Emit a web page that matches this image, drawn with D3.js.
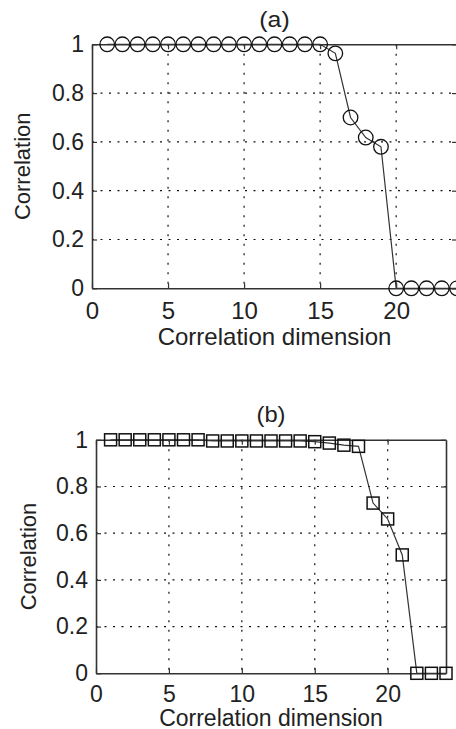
<!DOCTYPE html>
<html>
<head>
<meta charset="utf-8">
<script src="https://cdn.jsdelivr.net/npm/d3@7"></script>
<style>
  html, body { margin: 0; padding: 0; background: #fff; }
  svg { display: block; }
  text { font-family: "Liberation Sans", Arial, sans-serif; fill: #222; }
</style>
</head>
<body>
<div id="chart"></div>
<script>
// Data
const dims = [1, 2, 3, 4, 5, 6, 7, 8, 9, 10, 11, 12, 13, 14, 15, 16, 17, 18, 19, 20, 21, 22, 23, 24];
const corrA = [1, 1, 1, 1, 1, 1, 1, 1, 1, 1, 1, 1, 1, 1, 1, 0.963, 0.70, 0.618, 0.58, 0, 0, 0, 0, 0];
const corrB = [1, 1, 1, 1, 1, 1, 1, 0.995, 0.995, 0.995, 0.995, 0.995, 0.995, 0.995, 0.992, 0.986, 0.977, 0.972, 0.729, 0.661, 0.507, 0, 0, 0];
const xTicks = [0, 5, 10, 15, 20];
const yTicks = [0, 0.2, 0.4, 0.6, 0.8, 1];
const titles = ["(a)", "(b)"];
const xLabel = "Correlation dimension";
const yLabel = "Correlation";

const svg = d3.select("#chart")
   .append("svg")
   .attr("width", 456)
   .attr("height", 729);

// layout of each panel (pixels); panel (a) is a little wider in the scan
const panels = [
   { values: corrA, marker: "circle", left: 92, right: 457, top: 44.3, bottom: 288.3,
     titleY: 27, xLabelY: 344.5, yLabelX: 22.5, xPad: 14, sx: 1.045 },
   { values: corrB, marker: "square", left: 96, right: 446, top: 439.8, bottom: 673.3,
     titleY: 421.5, xLabelY: 725.5, yLabelX: 28.7, xPad: 12, sx: 1.0 }
];

panels.forEach((p, k) => {
   const x = d3.scaleLinear().domain([0, 24]).range([p.left, p.right]);
   const y = d3.scaleLinear().domain([0, 1]).range([p.bottom, p.top]);
   const g = svg.append("g");

   // dotted grid
   g.selectAll(".vgrid")
      .data(xTicks.filter(d => d > 0))
      .enter()
      .append("line")
      .attr("x1", d => x(d)).attr("x2", d => x(d))
      .attr("y1", p.top).attr("y2", p.bottom)
      .attr("stroke", "#111")
      .attr("stroke-width", 1.2)
      .attr("stroke-dasharray", "2,7.5");

   g.selectAll(".hgrid")
      .data(yTicks.filter(d => d > 0 && d < 1))
      .enter()
      .append("line")
      .attr("x1", p.left).attr("x2", p.right)
      .attr("y1", d => y(d)).attr("y2", d => y(d))
      .attr("stroke", "#111")
      .attr("stroke-width", 1.2)
      .attr("stroke-dasharray", "2,6.5");

   // axes, ticks pointing inward like MATLAB
   const fmt = d3.format("~g");
   const bottomAxis = g.append("g")
      .attr("transform", `translate(0, ${p.bottom})`)
      .call(d3.axisBottom(x).tickValues(xTicks).tickFormat(fmt).tickSizeInner(-5).tickSizeOuter(0).tickPadding(p.xPad));
   const leftAxis = g.append("g")
      .attr("transform", `translate(${p.left}, 0)`)
      .call(d3.axisLeft(y).tickValues(yTicks).tickFormat(fmt).tickSizeInner(-5).tickSizeOuter(0).tickPadding(8));
   const topAxis = g.append("g")
      .attr("transform", `translate(0, ${p.top})`)
      .call(d3.axisTop(x).tickValues(xTicks).tickSizeInner(-5).tickSizeOuter(0).tickFormat(""));
   const rightAxis = g.append("g")
      .attr("transform", `translate(${p.right}, 0)`)
      .call(d3.axisRight(y).tickValues(yTicks).tickSizeInner(-5).tickSizeOuter(0).tickFormat(""));

   [bottomAxis, leftAxis, topAxis, rightAxis].forEach(a => {
      a.select(".domain").attr("stroke", "#333").attr("stroke-width", 1.6);
      a.selectAll(".tick line").attr("stroke", "#333").attr("stroke-width", 1.2);
      a.selectAll(".tick text")
         .style("font-family", "'Liberation Sans', Arial, sans-serif")
         .attr("font-size", 23)
         .attr("fill", "#222");
   });
   bottomAxis.selectAll(".tick text").attr("transform", `scale(${p.sx}, 1)`);

   // data line
   const line = d3.line()
      .x((d, i) => x(dims[i]))
      .y(d => y(d));

   g.append("path")
      .datum(p.values)
      .attr("fill", "none")
      .attr("stroke", "#333")
      .attr("stroke-width", 1.2)
      .attr("d", line);

   // markers
   if (p.marker === "circle") {
      g.selectAll(".mark")
         .data(p.values)
         .enter()
         .append("circle")
         .attr("cx", (d, i) => x(dims[i]))
         .attr("cy", d => y(d))
         .attr("r", 7.3)
         .attr("fill", "none")
         .attr("stroke", "#111")
         .attr("stroke-width", 1.3);
   } else {
      g.selectAll(".mark")
         .data(p.values)
         .enter()
         .append("rect")
         .attr("x", (d, i) => x(dims[i]) - 6)
         .attr("y", d => y(d) - 6)
         .attr("width", 12)
         .attr("height", 12)
         .attr("fill", "none")
         .attr("stroke", "#111")
         .attr("stroke-width", 1.5);
   }

   // labels
   g.append("text")
      .attr("transform", `translate(${(p.left + p.right) / 2}, ${p.titleY}) scale(${p.sx * 1.08}, 1)`)
      .attr("text-anchor", "middle")
      .attr("font-size", 22)
      .text(titles[k]);

   g.append("text")
      .attr("transform", `translate(${(p.left + p.right) / 2}, ${p.xLabelY}) scale(${p.sx}, 1)`)
      .attr("text-anchor", "middle")
      .attr("font-size", 23)
      .text(xLabel);

   g.append("text")
      .attr("transform", `translate(${p.yLabelX}, ${(p.top + p.bottom) / 2}) rotate(-90)`)
      .attr("text-anchor", "middle")
      .attr("dominant-baseline", "central")
      .attr("font-size", 22)
      .text(yLabel);
});
</script>
</body>
</html>
